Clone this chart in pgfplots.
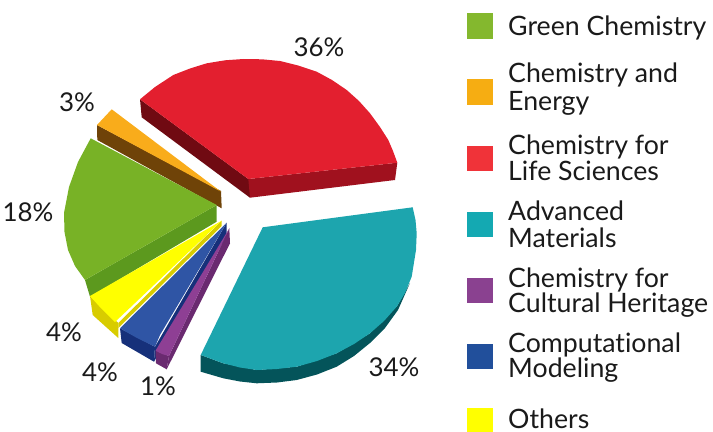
\documentclass[border=0pt]{standalone}
\usepackage{pgfplots}
\pgfplotsset{compat=1.18}
\usepackage{fontspec}
\setmainfont[Ligatures=NoCommon]{Lato}
\definecolor{cGreen}{HTML}{78B226}
\definecolor{cGreenD}{HTML}{5C991E}
\definecolor{cOrange}{HTML}{F9AC1B}
\definecolor{cOrangeD}{HTML}{6F4308}
\definecolor{cRed}{HTML}{E31F2F}
\definecolor{cRedD}{HTML}{700A12}
\definecolor{cRedM}{HTML}{A0111E}
\definecolor{cTeal}{HTML}{1DA5AE}
\definecolor{cTealD}{HTML}{04545A}
\definecolor{cYellow}{HTML}{FFFF00}
\definecolor{cYellowD}{HTML}{D8CC00}
\definecolor{cBlue}{HTML}{2F55A5}
\definecolor{cBlueD}{HTML}{16307A}
\definecolor{cPurple}{HTML}{8E3F94}
\definecolor{cPurpleD}{HTML}{6A2A70}
\definecolor{lGreen}{HTML}{84B82E}
\definecolor{lOrange}{HTML}{F6AD12}
\definecolor{lRed}{HTML}{F03339}
\definecolor{lTeal}{HTML}{14A9B2}
\definecolor{lPurple}{HTML}{8A4190}
\definecolor{lBlue}{HTML}{214F9B}
\definecolor{txt}{HTML}{1A1A1A}
\tikzset{lab/.style={font=\fontsize{26}{26}\selectfont,text=txt,inner sep=0pt},
  leg/.style={font=\fontsize{26.8}{26.8}\selectfont,text=txt,inner sep=0pt,anchor=base west}}
\begin{document}
\begin{tikzpicture}
\begin{axis}[
  width=713bp,height=432bp,scale only axis,
  xmin=0,xmax=713,ymin=0,ymax=432,y dir=reverse,
  hide axis,clip=false,no markers,
  every axis plot/.append style={draw=none,line width=0pt}
]
\path (axis cs:0,0) rectangle (axis cs:713,432);
% red
\addplot[fill=cRedD] coordinates {(140,99.3)(141.7,117.3)(250,197.7)(252,179)(248.3,179)};
\addplot[fill=cRedM] coordinates {(248.3,179)(250,197.7)(395,180)(397.3,162.7)};
\addplot[fill=cRed] coordinates {(140,99.3)(155,87)(173.3,75)(190,68.5)(206.7,63.3)(225,60.3)(243.3,59)(262,59.3)(280,61)(298,65.5)(316.7,71.7)(332,80)(346.7,90)(359,101)(370,113.3)(380,127)(388.3,140)(393,151)(397.3,162.7)(248.3,179)};
% orange
\addplot[fill=cOrangeD] coordinates {(97,125)(97.3,140)(221.7,208.3)(221,191)};
\addplot[fill=cOrange] coordinates {(111.7,109.3)(97,125)(221,191.7)};
% green
\addplot[fill=cGreenD] coordinates {(216.7,205)(216.7,221.7)(90,296.7)(85,280)};
\addplot[fill=cGreen] coordinates {(90.7,138.3)(78,162)(69,187)(64,213)(64.5,232)(68,250)(75,266)(85,280)(216.7,205)};
% yellow
\addplot[fill=cYellowD] coordinates {(90,296)(92.7,315)(118.3,338)(118.3,323)};
\addplot[fill=cYellowD] coordinates {(221.7,220.7)(118.3,323)(118.3,328)(221.7,226)};
\addplot[fill=cYellow] coordinates {(221.7,220.7)(90,296)(99,306)(115,322)};
% blue
\addplot[fill=cBlueD] coordinates {(120,328.3)(121.7,343)(154,361.7)(155,346.7)};
\addplot[fill=cBlueD] coordinates {(226.7,222.7)(155,346.7)(154,361.7)(226.7,236)};
\addplot[fill=cBlue] coordinates {(226.7,222.7)(120,328.3)(137,338)(155,346.7)(160,335)};
% purple
\addplot[fill=cPurpleD] coordinates {(155.5,350.7)(156,363.3)(166.7,369.3)(169,356)};
\addplot[fill=cPurpleD] coordinates {(229.3,228.3)(169,356)(166.7,369.3)(230,243.3)};
\addplot[fill=cPurple] coordinates {(229.3,228.3)(155.5,350.7)(162,354)(169,356)};
% teal
\addplot[fill=cTealD] coordinates {(200.7,355)(200.7,371.7)(223.3,378.3)(240,381.5)(256.7,383.3)(277,382.5)(296.7,380)(317,374.5)(336.7,366.7)(354,356)(370,343)(385,328)(398,310)(410,283)(396.7,306.7)(370,333.3)(336.7,353.3)(296.7,366.7)(256.7,370)(223.3,363.3)};
\addplot[fill=cTeal] coordinates {(262.7,227.3)(412.7,207.3)(415.5,220)(416.7,233.3)(416,250)(411.7,276.7)(405,293)(396.7,306.7)(384,321)(370,333.3)(354,344)(336.7,353.3)(317,361)(296.7,366.7)(277,369)(256.7,370)(240,367.5)(223.3,363.3)(200.7,355)};
% legend swatches
\addplot[fill=lGreen] coordinates {(467.3,13.3)(493,13.3)(493,39)(467.3,39)};
\addplot[fill=lOrange] coordinates {(467.3,79.3)(493,79.3)(493,105)(467.3,105)};
\addplot[fill=lRed] coordinates {(467.3,145.7)(493,145.7)(493,171)(467.3,171)};
\addplot[fill=lTeal] coordinates {(467.3,211.7)(493,211.7)(493,237)(467.3,237)};
\addplot[fill=lPurple] coordinates {(467.3,278)(493,278)(493,303)(467.3,303)};
\addplot[fill=lBlue] coordinates {(467.3,344.3)(493,344.3)(493,369.3)(467.3,369.3)};
\addplot[fill=cYellow] coordinates {(467.3,408)(493,408)(493,432)(467.3,432)};
% legend text
\node[leg] at (axis cs:508,35.7) {Green Chemistry};
\node[leg] at (axis cs:508,83) {Chemistry and};
\node[leg] at (axis cs:508,110.7) {Energy};
\node[leg] at (axis cs:508,154) {Chemistry for};
\node[leg] at (axis cs:508,180.7) {Life Sciences};
\node[leg] at (axis cs:508,220) {Advanced};
\node[leg] at (axis cs:508,247) {Materials};
\node[leg] at (axis cs:508,287) {Chemistry for};
\node[leg] at (axis cs:508,312.7) {Cultural Heritage};
\node[leg] at (axis cs:508,352) {Computational};
\node[leg] at (axis cs:508,377.7) {Modeling};
\node[leg] at (axis cs:508,428) {Others};
% percentages
\node[lab,anchor=base] at (axis cs:319,56.5) {36\%};
\node[lab,anchor=base] at (axis cs:77,111) {3\%};
\node[lab,anchor=base] at (axis cs:28,221.5) {18\%};
\node[lab,anchor=base] at (axis cs:64,341) {4\%};
\node[lab,anchor=base] at (axis cs:100,381) {4\%};
\node[lab,anchor=base] at (axis cs:158,395) {1\%};
\node[lab,anchor=base] at (axis cs:394,376) {34\%};
\end{axis}
\end{tikzpicture}
\end{document}
